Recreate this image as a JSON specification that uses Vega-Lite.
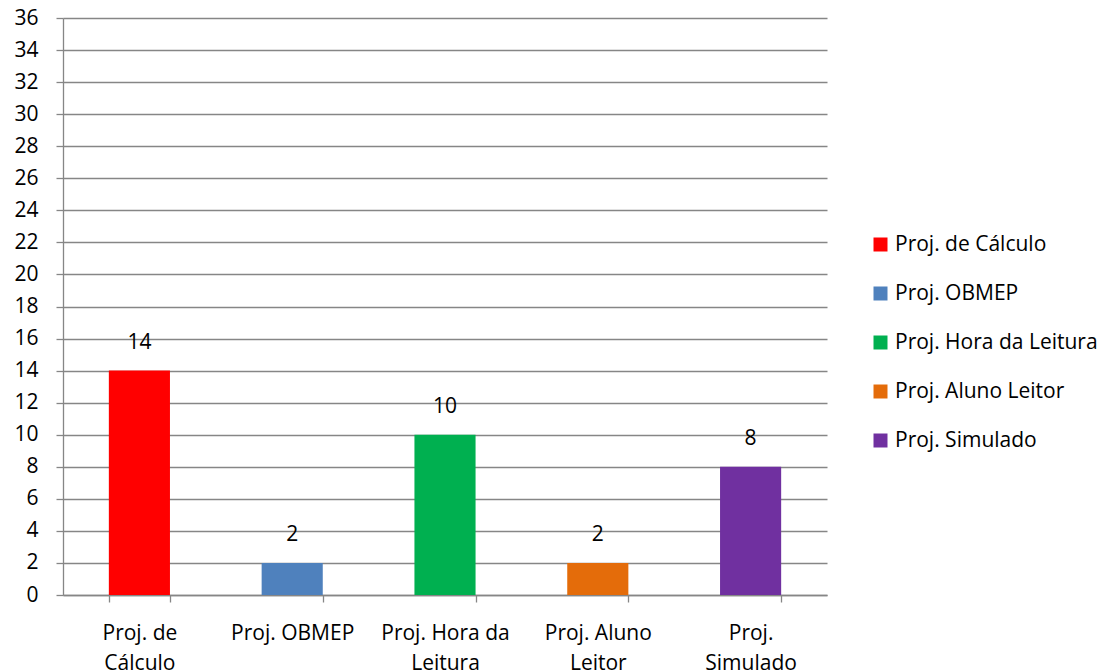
{
  "$schema": "https://vega.github.io/schema/vega-lite/v6.json",
  "width": 764,
  "height": 577,
  "autosize": {"type": "none"},
  "padding": {"left": 63, "top": 18, "right": 291, "bottom": 76},
  "background": "white",
  "config": {
    "font": "Open Sans",
    "view": {"stroke": null}
  },
  "data": {
    "values": [
      {"projeto": "Proj. de Cálculo", "valor": 14},
      {"projeto": "Proj. OBMEP", "valor": 2},
      {"projeto": "Proj. Hora da Leitura", "valor": 10},
      {"projeto": "Proj. Aluno Leitor", "valor": 2},
      {"projeto": "Proj. Simulado", "valor": 8}
    ]
  },
  "encoding": {
    "x": {
      "field": "projeto",
      "type": "nominal",
      "sort": null,
      "scale": {"paddingInner": 0.6, "paddingOuter": 0.3},
      "axis": {
        "title": null,
        "labelAngle": 0,
        "tickBand": "extent",
        "tickSize": 7,
        "tickColor": "#868686",
        "domainColor": "#868686",
        "domainWidth": 1.3,
        "tickWidth": 1.3,
        "labelFontSize": 21,
        "labelColor": "#000000",
        "labelPadding": 20,
        "labelLineHeight": 30,
        "labelLimit": 200,
        "labelExpr": "datum.value == 'Proj. de Cálculo' ? ['Proj. de', 'Cálculo'] : datum.value == 'Proj. Hora da Leitura' ? ['Proj. Hora da', 'Leitura'] : datum.value == 'Proj. Aluno Leitor' ? ['Proj. Aluno', 'Leitor'] : datum.value == 'Proj. Simulado' ? ['Proj.', 'Simulado'] : datum.value"
      }
    },
    "y": {
      "field": "valor",
      "type": "quantitative",
      "scale": {"domain": [0, 36], "nice": false},
      "axis": {
        "title": null,
        "values": [0,2,4,6,8,10,12,14,16,18,20,22,24,26,28,30,32,34,36],
        "tickSize": 7,
        "tickColor": "#868686",
        "tickWidth": 1.3,
        "domainColor": "#868686",
        "domainWidth": 1.3,
        "gridColor": "#868686",
        "gridWidth": 1.3,
        "labelFontSize": 21,
        "labelColor": "#000000",
        "labelPadding": 18
      }
    }
  },
  "layer": [
    {
      "mark": {"type": "bar"},
      "encoding": {
        "color": {
          "field": "projeto",
          "type": "nominal",
          "sort": null,
          "scale": {
            "domain": ["Proj. de Cálculo", "Proj. OBMEP", "Proj. Hora da Leitura", "Proj. Aluno Leitor", "Proj. Simulado"],
            "range": ["#FF0000", "#4F81BD", "#00B050", "#E46C0A", "#7030A0"]
          },
          "legend": {
            "title": null,
            "orient": "none",
            "legendX": 807,
            "legendY": 216,
            "symbolType": "square",
            "symbolSize": 196,
            "symbolStrokeWidth": 0,
            "labelFontSize": 21,
            "labelColor": "#000000",
            "rowPadding": 27,
            "labelOffset": 4,
            "labelLimit": 300
          }
        }
      }
    },
    {
      "mark": {"type": "text", "dy": -28, "fontSize": 21, "color": "#000000"},
      "encoding": {
        "text": {"field": "valor", "type": "quantitative"}
      }
    }
  ]
}
